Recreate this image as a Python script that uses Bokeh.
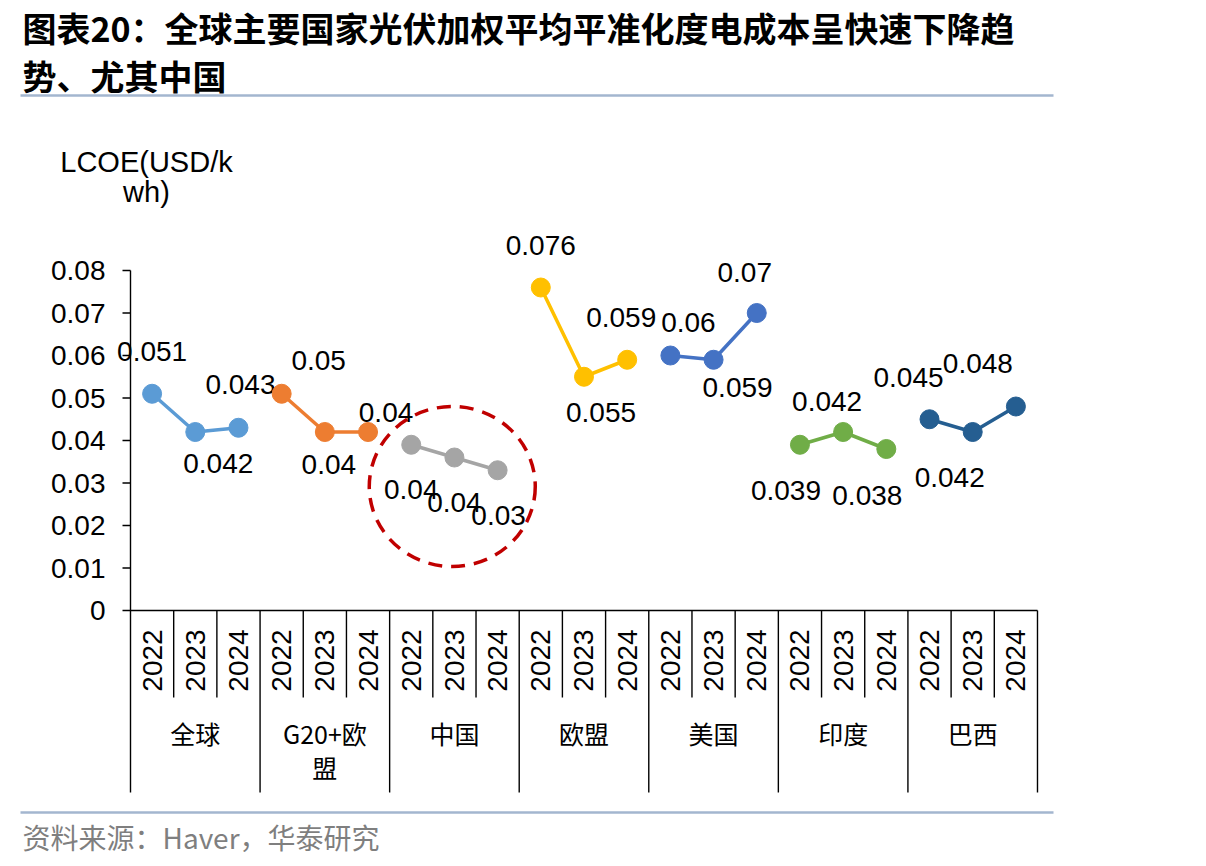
import numpy as np
from bokeh.plotting import figure
from bokeh.models import Range1d
from bokeh.core.properties import value
from bokeh.embed import file_html
from bokeh.resources import INLINE

# ---------------- data ----------------
groups = ["全球", "G20+欧盟", "中国", "欧盟", "美国", "印度", "巴西"]
group_text = ["全球", "G20+欧\n盟", "中国", "欧盟", "美国", "印度", "巴西"]
years = ["2022", "2023", "2024"]
global_vals = [0.051, 0.042, 0.043]
g20_vals = [0.051, 0.042, 0.042]
china_vals = [0.039, 0.036, 0.033]
eu_vals = [0.076, 0.055, 0.059]
us_vals = [0.060, 0.059, 0.070]
india_vals = [0.039, 0.042, 0.038]
brazil_vals = [0.045, 0.042, 0.048]
global_labels = ["0.051", "0.042", "0.043"]
g20_labels = ["0.05", "0.04", "0.04"]
china_labels = ["0.04", "0.04", "0.03"]
eu_labels = ["0.076", "0.055", "0.059"]
us_labels = ["0.06", "0.059", "0.07"]
india_labels = ["0.039", "0.042", "0.038"]
brazil_labels = ["0.045", "0.042", "0.048"]
y_ticks = [0, 0.01, 0.02, 0.03, 0.04, 0.05, 0.06, 0.07, 0.08]
y_tick_labels = ["0", "0.01", "0.02", "0.03", "0.04", "0.05", "0.06", "0.07", "0.08"]

title_1 = "图表20：全球主要国家光伏加权平均平准化度电成本呈快速下降趋"
title_2 = "势、尤其中国"
y_title = "LCOE(USD/k\nwh)"
source_text = "资料来源：Haver，华泰研究"

series_vals = [global_vals, g20_vals, china_vals, eu_vals, us_vals, india_vals, brazil_vals]
series_labels = [global_labels, g20_labels, china_labels, eu_labels, us_labels, india_labels, brazil_labels]
colors = ["#5B9BD5", "#ED7D31", "#A5A5A5", "#FFC000", "#4472C4", "#70AD47", "#255E91"]

# label offsets in screen px (dx right, dy down) – styling
label_offsets = [
    [(0, -42), (23, 31), (2, -43)],
    [(37, -33), (4, 32), (18, -20)],
    [(0, 45), (0, 45), (1, 45)],
    [(0, -42), (17, 36), (-6, -42)],
    [(18, -33), (24, 28), (-12, -41)],
    [(-14, 46), (-16, -31), (-19, 46)],
    [(-21, -42), (-23, 45), (-38, -43)],
]

# ---------------- layout ----------------
W, H = 1206, 866
X0 = 130.0          # px of category axis start
CAT_W = 43.19       # px per category
Y0 = 610.0          # px of value 0
PPU = 4250.0        # px per value unit


def px_x(px):
    return (px - X0) / CAT_W


def px_y(py):
    return (Y0 - py) / PPU


p = figure(width=W, height=H, output_backend="svg", toolbar_location=None,
           x_range=Range1d(px_x(0), px_x(W)), y_range=Range1d(px_y(H), px_y(0)),
           x_axis_location=None, y_axis_location=None,
           min_border=0, min_border_left=0, min_border_right=0,
           min_border_top=0, min_border_bottom=0)
p.outline_line_color = None
p.background_fill_color = "white"
p.border_fill_color = "white"
p.grid.visible = False

n_cat = len(groups) * len(years)
NUM_FONT = value("Liberation Sans")

# highlight circle around China
china_idx = groups.index("中国")
p.ellipse(x=[china_idx * 3 + 1.5 - 0.05], y=[px_y(486)], width=[166 / CAT_W], height=[160 / PPU],
          fill_color=None, line_color="#C00000", line_width=3.5, line_dash="14 9")

# axes
axis_color = "#000000"
p.segment(x0=[0], y0=[px_y(792)], x1=[0], y1=[y_ticks[-1]], line_color=axis_color, line_width=1.4)
p.segment(x0=[px_x(122)] * len(y_ticks), y0=y_ticks, x1=[0] * len(y_ticks), y1=y_ticks,
          line_color=axis_color, line_width=1.4)
p.text(x=[px_x(105)] * len(y_ticks), y=y_ticks, text=y_tick_labels,
       text_font=NUM_FONT, text_font_size="28px",
       text_align="right", text_baseline="middle", text_color="black")

p.segment(x0=[0], y0=[0], x1=[n_cat], y1=[0], line_color=axis_color, line_width=1.4)
sep_x = list(range(1, n_cat + 1))
sep_y1 = [px_y(792) if k % 3 == 0 else px_y(697) for k in sep_x]
p.segment(x0=sep_x, y0=[0] * len(sep_x), x1=sep_x, y1=sep_y1, line_color=axis_color, line_width=1.4)

cat_x = [g * 3 + j + 0.5 for g in range(len(groups)) for j in range(len(years))]
cat_years = [years[j] for g in range(len(groups)) for j in range(len(years))]
p.text(x=cat_x, y=[px_y(660)] * n_cat, text=cat_years, angle=np.pi / 2,
       text_font=NUM_FONT, text_font_size="28px",
       text_align="center", text_baseline="middle", text_color="black")

grp_x = [g * 3 + 1.5 for g in range(len(groups))]
p.text(x=grp_x, y=[px_y(714)] * len(groups), text=group_text,
       text_font=value("Noto Sans CJK SC"), text_font_size="25px", text_line_height=0.97,
       text_align="center", text_baseline="top", text_color="black")

# series
for g, (vals, labs, col, offs) in enumerate(zip(series_vals, series_labels, colors, label_offsets)):
    xs = [g * 3 + j + 0.5 for j in range(len(vals))]
    p.line(xs, vals, line_color=col, line_width=3.5)
    p.scatter(xs, vals, size=19, fill_color=col, line_color=col)
    lx = [x + d[0] / CAT_W for x, d in zip(xs, offs)]
    ly = [v - d[1] / PPU for v, d in zip(vals, offs)]
    p.text(x=lx, y=ly, text=labs, text_font=NUM_FONT, text_font_size="28px",
           text_align="center", text_baseline="middle", text_color="black")

# y title
p.text(x=[px_x(146)], y=[px_y(145)], text=[y_title], text_font=NUM_FONT,
       text_font_size="29px", text_line_height=0.95, text_align="center", text_baseline="top",
       text_color="black")

# header / footer
p.text(x=[px_x(22)], y=[px_y(27)], text=[title_1], text_font=value("Noto Sans CJK SC"),
       text_font_size="34px", text_font_style="bold", text_align="left", text_baseline="middle",
       text_color="black")
p.text(x=[px_x(22)], y=[px_y(75)], text=[title_2], text_font=value("Noto Sans CJK SC"),
       text_font_size="34px", text_font_style="bold", text_align="left", text_baseline="middle",
       text_color="black")
rule_color = "#A3B6CF"
p.segment(x0=[px_x(20), px_x(20)], y0=[px_y(95), px_y(812)], x1=[px_x(1053), px_x(1053)],
          y1=[px_y(95), px_y(812)], line_color=rule_color, line_width=2.5)
p.text(x=[px_x(22)], y=[px_y(836)], text=[source_text], text_font=value("Noto Sans CJK SC"),
       text_font_size="28px", text_align="left", text_baseline="middle", text_color="#7F7F7F")

open("out.html", "w").write(file_html(p, INLINE))
